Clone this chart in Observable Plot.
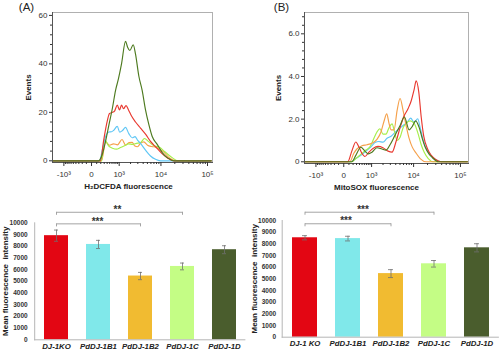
<!DOCTYPE html>
<html><head><meta charset="utf-8">
<script src="https://cdn.jsdelivr.net/npm/d3@7"></script>
<script src="https://cdn.jsdelivr.net/npm/@observablehq/plot@0.6"></script>
<style>
body{margin:0;background:#fff;}
#wrap{position:relative;width:500px;height:353px;overflow:hidden;background:#fff;}
</style></head><body><div id="wrap"></div>
<script>
const FONT = '"Liberation Sans", Arial, sans-serif';

// ---- Series names / colours ----
const histNames = ["DJ-1KO", "PdDJ-1B1", "PdDJ-1B2", "PdDJ-1C", "PdDJ-1D"];
const histColors = ["#e8382f", "#5ec6f5", "#f5a04a", "#a6ee4a", "#4d7a1f"];
const barColors = ["#e30613", "#80e8ea", "#f1bb31", "#c4fd85", "#4a5d2d"];

// ---- Histogram axis ticks ----
const xMajorTicks = [-1000, 0, 1000, 10000, 100000];
const xMajorLabels = ["-10³", "0", "10³", "10⁴", "10⁵"];
const xMinorTicks = [-900, -800, -700, -600, -500, -400, -300, -200, -100, 100, 200, 300, 400, 500, 600, 700, 800, 900,
  2000, 3000, 4000, 5000, 6000, 7000, 8000, 9000, 20000, 30000, 40000, 50000, 60000, 70000, 80000, 90000];
const aYMajor = [0, 20, 40, 60];
const aYMinor = [4, 8, 12, 16, 24, 28, 32, 36, 44, 48, 52, 56];
const bYMajor = [0, 2, 4, 6];
const bYMinor = [0.4, 0.8, 1.2, 1.6, 2.4, 2.8, 3.2, 3.6, 4.4, 4.8, 5.2, 5.6, 6.4, 6.8];

// ---- Panel A: H2DCFDA histogram (fluorescence, events) ----
const aKoX = [-2000, 193, 278, 378, 492, 625, 725, 876, 1022, 1162, 1317, 1534, 1778, 2114, 2644, 3469, 4525, 5873, 7590, 10290, 13900, 18760, 120000];
const aKoY = [0, 0, 8, 15, 19.5, 20, 20.5, 23, 21, 23, 21.5, 22.8, 21, 18.5, 16, 13.5, 11, 8, 5.8, 3.2, 1.2, 0, 0];
const aB1X = [-2000, 167, 249, 343, 464, 579, 674, 876, 1042, 1238, 1488, 1810, 2199, 2572, 2950, 3469, 4525, 5873, 7590, 9785, 120000];
const aB1Y = [0, 0, 5, 10, 11.9, 12, 12.5, 14.2, 11.8, 12.5, 13.8, 11.2, 9.5, 10, 8.5, 7.2, 4.4, 2, 0.6, 0, 0];
const aB2X = [-2000, 220, 343, 492, 674, 894, 1200, 1488, 1830, 2199, 2503, 2950, 3469, 4137, 5026, 6183, 7590, 8840, 11380, 14620, 17860, 21770, 120000];
const aB2Y = [0, 0, 7.8, 6.4, 7, 6.6, 8.8, 6.5, 7.5, 7.6, 6.2, 5.8, 7.2, 7.8, 6.4, 5.9, 5.7, 5, 3.7, 1.5, 0.4, 0, 0];
const a1CX = [-2000, 220, 310, 452, 625, 836, 1091, 1401, 1778, 2236, 2793, 3469, 4295, 5292, 6850, 9310, 11380, 13900, 17860, 22900, 120000];
const a1CY = [0, 0, 8.8, 6.2, 5.2, 4.8, 5.5, 6.2, 7, 6.8, 7.2, 7.5, 9.2, 8, 6.3, 5.6, 4.2, 2.8, 1.2, 0, 0];
const a1DX = [-2000, 142, 249, 343, 452, 625, 778, 957, 1162, 1488, 1676, 1917, 2326, 2644, 3166, 3800, 4525, 5376, 6410, 8278, 10670, 13900, 20050, 120000];
const a1DY = [0, 0, 3, 8, 14, 22, 29, 34, 40, 49.3, 47, 45.5, 47.9, 44, 35, 29, 21, 15, 10, 6.8, 3.4, 1.2, 0, 0];

// ---- Panel B: MitoSOX histogram (fluorescence, events) ----
const bKoX = [-2000, 75, 167, 278, 378, 492, 625, 836, 1091, 1488, 1995, 2644, 3288, 4073, 5026, 6025, 7590, 8840, 10290, 11380, 12900, 14620, 16570, 20050, 24050, 29300, 39400, 140000];
const bKoY = [0, 0, 0.5, 0.93, 0.7, 0.4, 0.25, 0.45, 0.62, 0.72, 0.66, 0.5, 0.45, 0.95, 1.6, 2.1, 2.5, 2.85, 3.4, 3.8, 3.3, 2.1, 1.2, 0.6, 0.3, 0.12, 0, 0];
const bB1X = [-2000, 142, 278, 452, 674, 957, 1238, 1580, 1995, 2503, 3117, 3864, 4770, 5873, 7210, 8620, 10290, 12270, 13900, 16170, 20050, 24050, 30770, 39400, 140000];
const bB1Y = [0, 0, 0.15, 0.3, 0.5, 0.7, 0.9, 0.95, 0.92, 1.1, 1.2, 1.38, 1.55, 1.7, 1.85, 2.05, 1.85, 2.02, 1.6, 1.0, 0.5, 0.28, 0.08, 0, 0];
const bB2X = [-2000, 119, 220, 310, 492, 725, 1022, 1401, 1778, 2114, 2460, 2793, 3117, 3660, 4295, 5026, 5873, 6850, 7980, 9310, 11380, 13900, 18760, 140000];
const bB2Y = [0, 0, 0.4, 0.6, 0.75, 0.8, 0.87, 1.05, 1.4, 1.9, 2.25, 1.8, 1.5, 1.5, 2.4, 2.97, 2.4, 1.7, 1.1, 0.7, 0.4, 0.15, 0, 0];
const b1CX = [-2000, 167, 278, 452, 674, 894, 1162, 1401, 1676, 1995, 2365, 2793, 3288, 3760, 4295, 5026, 5873, 6850, 8400, 10290, 12590, 14620, 16970, 20730, 26540, 140000];
const b1CY = [0, 0, 0.15, 0.35, 0.55, 0.7, 1.1, 1.4, 1.55, 1.3, 1.3, 1.6, 1.78, 1.4, 1.0, 1.15, 1.6, 1.8, 1.92, 1.8, 1.3, 0.8, 0.45, 0.15, 0, 0];
const b1DX = [-2000, 167, 278, 452, 625, 806, 1022, 1401, 1884, 2365, 2950, 3864, 5026, 6280, 7980, 9310, 11100, 13240, 15380, 17860, 21770, 25260, 33950, 140000];
const b1DY = [0, 0, 0.3, 0.68, 0.5, 0.37, 0.45, 0.66, 0.6, 0.55, 0.8, 1.25, 1.7, 2.1, 1.5, 1.65, 1.92, 1.6, 1.1, 0.68, 0.35, 0.2, 0, 0];

// ---- Bar charts ----
const barTicks = [0, 1000, 2000, 3000, 4000, 5000, 6000, 7000, 8000, 9000, 10000];
const cCats = ["DJ-1KO", "PdDJ-1B1", "PdDJ-1B2", "PdDJ-1C", "PdDJ-1D"];
const cMeans = [8900, 8150, 5450, 6270, 7700];
const cErrs = [480, 350, 310, 290, 340];
const cBrackets = [
  {from: "DJ-1KO", to: "PdDJ-1B2", mid: "PdDJ-1B1", level: 9910, label: "***"},
  {from: "DJ-1KO", to: "PdDJ-1C", mid: "PdDJ-1B1", level: 10900, label: "**"}
];
const dCats = ["DJ-1 KO", "PdDJ-1B1", "PdDJ-1B2", "PdDJ-1C", "PdDJ-1D"];
const dMeans = [8520, 8450, 5450, 6290, 7660];
const dErrs = [180, 200, 340, 280, 350];
const dBrackets = [
  {from: "DJ-1 KO", to: "PdDJ-1B2", mid: "PdDJ-1B1", level: 9720, label: "***"},
  {from: "DJ-1 KO", to: "PdDJ-1C", mid: "PdDJ-1B1", level: 10710, label: "***"}
];

const wrap = document.getElementById("wrap");
function place(svg, left, top) {
  svg.style.position = "absolute";
  svg.style.left = left + "px";
  svg.style.top = top + "px";
  wrap.appendChild(svg);
}

function histogram(cfg) {
  const rows = [];
  cfg.order.forEach(([name, xs, ys]) => xs.forEach((x, i) => rows.push({name, x, y: ys[i]})));
  return Plot.plot({
    width: 250, height: 195,
    marginLeft: cfg.ml, marginRight: cfg.mr, marginTop: 12, marginBottom: cfg.mb,
    style: {background: "transparent", fontFamily: FONT, color: "#333", overflow: "visible"},
    x: {type: "symlog", constant: 350, domain: cfg.xDomain},
    y: {domain: cfg.yDomain},
    color: {domain: histNames, range: histColors},
    marks: [
      Plot.frame({stroke: "#b0b0b0"}),
      Plot.line(rows, {x: "x", y: "y", z: "name", stroke: "name", curve: "monotone-x", strokeWidth: 1.15}),
      Plot.frame({anchor: "left", stroke: "#555"}),
      Plot.frame({anchor: "bottom", stroke: "#555"}),
      Plot.axisX({ticks: xMinorTicks, tickSize: 2, tickFormat: () => "", label: null}),
      Plot.axisX({ticks: xMajorTicks, tickSize: 4, tickPadding: 5, label: null, fontSize: 8,
        tickFormat: (d) => xMajorLabels[xMajorTicks.indexOf(d)]}),
      Plot.axisY({ticks: cfg.yMinor, tickSize: 2, tickFormat: () => "", label: null}),
      Plot.axisY({ticks: cfg.yMajor, tickSize: 3, tickPadding: 2, label: null, fontSize: 8, tickFormat: cfg.yFormat}),
      Plot.text([cfg.letter], {frameAnchor: "top-left", dx: cfg.letterDx, dy: -5, textAnchor: "middle", lineAnchor: "middle", fontSize: 11.5, fill: "#222"}),
      Plot.text(["Events"], {frameAnchor: "left", dx: cfg.eventsDx, dy: 0, rotate: -90, textAnchor: "middle", lineAnchor: "middle", fontWeight: "bold", fontSize: 8, fill: "#222"}),
      Plot.text([cfg.xLabel], {frameAnchor: "bottom", dx: cfg.xLabelDx, dy: 24, textAnchor: "middle", lineAnchor: "middle", fontWeight: "bold", fontSize: 8, fill: "#222"})
    ]
  });
}

function barChart(cfg) {
  const rows = cfg.cats.map((c, i) => ({cat: c, mean: cfg.means[i], lo: cfg.means[i] - cfg.errs[i], hi: cfg.means[i] + cfg.errs[i]}));
  const br = cfg.brackets;
  return Plot.plot({
    width: 250, height: 158,
    marginLeft: cfg.ml, marginRight: cfg.mr, marginTop: cfg.mt, marginBottom: cfg.mb,
    style: {background: "transparent", fontFamily: FONT, color: "#333", overflow: "visible"},
    x: {domain: cfg.cats, paddingInner: cfg.pi, paddingOuter: cfg.po},
    y: {domain: [0, 10000]},
    color: {domain: cfg.cats, range: barColors},
    marks: [
      Plot.frame({anchor: "left", stroke: "#b5b5b5"}),
      Plot.barY(rows, {x: "cat", y: "mean", fill: "cat"}),
      Plot.ruleY([0], {stroke: "#b5b5b5"}),
      Plot.ruleX(rows, {x: "cat", y1: "lo", y2: "hi", stroke: "#707070", strokeWidth: 0.8}),
      Plot.tickY(rows, {x: "cat", y: "lo", stroke: "#707070", strokeWidth: 0.8, insetLeft: 10, insetRight: 10}),
      Plot.tickY(rows, {x: "cat", y: "hi", stroke: "#707070", strokeWidth: 0.8, insetLeft: 10, insetRight: 10}),
      Plot.link(br, {x1: "from", x2: "to", y1: "level", y2: "level", stroke: "#9a9a9a", strokeWidth: 0.9}),
      Plot.ruleX(br, {x: "from", y1: "level", y2: (d) => d.level - 260, stroke: "#9a9a9a", strokeWidth: 0.9}),
      Plot.ruleX(br, {x: "to", y1: "level", y2: (d) => d.level - 260, stroke: "#9a9a9a", strokeWidth: 0.9}),
      Plot.text(br.slice(0, 1), {x: "mid", y: "level", text: "label", dx: cfg.lowDx, dy: -2.5, lineAnchor: "middle", fontSize: 10, fontWeight: "bold", fill: "#333"}),
      Plot.text(br.slice(1, 2), {x: "mid", y: "level", text: "label", dx: cfg.highDx, dy: -2.5, lineAnchor: "middle", fontSize: 10, fontWeight: "bold", fill: "#333"}),
      Plot.axisY({ticks: barTicks, tickSize: 0, tickPadding: cfg.tp, label: null, fontSize: 6.5, fontWeight: "bold", tickFormat: (d) => String(d)}),
      Plot.axisX({tickSize: 0, tickPadding: cfg.xp, label: null, fontSize: 7.8, fontWeight: "bold", fontStyle: "italic", fill: "#222"}),
      Plot.text(["Mean fluorescence\u00a0 intensity"], {frameAnchor: "left", dx: cfg.titleDx, rotate: -90, textAnchor: "middle", lineAnchor: "middle", fontWeight: "bold", fontSize: 8, fill: "#222"})
    ]
  });
}

const tenthFormat = (d) => (d === 0 ? "0" : d.toFixed(1));

place(histogram({
  order: [["PdDJ-1B2", aB2X, aB2Y], ["PdDJ-1C", a1CX, a1CY], ["PdDJ-1B1", aB1X, aB1Y], ["DJ-1KO", aKoX, aKoY], ["PdDJ-1D", a1DX, a1DY]],
  ml: 52, mr: 38, mb: 33, xDomain: [-2000, 127700], yDomain: [-0.7, 61.2],
  yMajor: aYMajor, yMinor: aYMinor, yFormat: (d) => String(d),
  letter: "(A)", letterDx: -26, eventsDx: -24, xLabel: "H₂DCFDA fluorescence", xLabelDx: -4
}), 0, 0);

place(histogram({
  order: [["PdDJ-1B1", bB1X, bB1Y], ["PdDJ-1C", b1CX, b1CY], ["PdDJ-1B2", bB2X, bB2Y], ["DJ-1KO", bKoX, bKoY], ["PdDJ-1D", b1DX, b1DY]],
  ml: 54, mr: 32, mb: 32, xDomain: [-2000, 148000], yDomain: [-0.08, 7.0],
  yMajor: bYMajor, yMinor: bYMinor, yFormat: tenthFormat,
  letter: "(B)", letterDx: -23, eventsDx: -26, xLabel: "MitoSOX fluorescence", xLabelDx: -10
}), 250, 0);

place(barChart({
  cats: cCats, means: cMeans, errs: cErrs, brackets: cBrackets,
  ml: 34.2, mr: 4.6, mt: 27.3, mb: 13.7, pi: 0.43, po: 0.215, tp: 7, xp: 4, titleDx: -29, lowDx: -1, highDx: 19
}), 0, 195);

place(barChart({
  cats: dCats, means: dMeans, errs: dErrs, brackets: dBrackets,
  ml: 31.7, mr: 1.1, mt: 25, mb: 16.3, pi: 0.426, po: 0.207, tp: 6, xp: 3.5, titleDx: -27.5, lowDx: -2, highDx: 15
}), 250, 195);
</script>
</body></html>
